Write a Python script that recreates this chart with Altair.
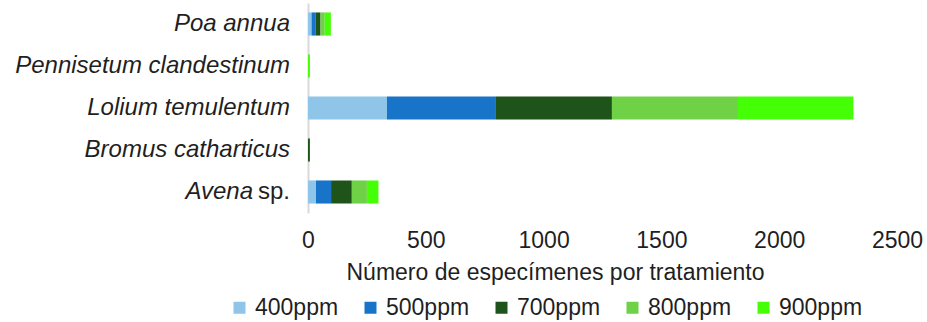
import altair as alt
import pandas as pd

# Species (top to bottom) and their label pieces: genus/species in italics, "sp." upright
species = ["Poa annua", "Pennisetum clandestinum", "Lolium temulentum",
           "Bromus catharticus", "Avena sp."]
italic_part = ["Poa annua", "Pennisetum clandestinum", "Lolium temulentum",
               "Bromus catharticus", "Avena"]
roman_part = ["", "", "", "", "sp."]

# CO2 treatments and their colours
treatments = ["400ppm", "500ppm", "700ppm", "800ppm", "900ppm"]
colors = ["#8EC5E8", "#1874C9", "#1E5319", "#6ED146", "#44FF05"]

# Number of specimens per species, one list per treatment (same order as species)
ppm400 = [15, 0, 335, 0, 34]
ppm500 = [18, 0, 460, 0, 64]
ppm700 = [20, 0, 495, 8, 88]
ppm800 = [18, 0, 535, 0, 64]
ppm900 = [26, 8, 490, 0, 49]

x_ticks = [0, 500, 1000, 1500, 2000, 2500]

series = [ppm400, ppm500, ppm700, ppm800, ppm900]
rows = []
for k, (trt, vals) in enumerate(zip(treatments, series)):
    for sp, v in zip(species, vals):
        rows.append({"especie": sp, "tratamiento": trt, "n": v, "orden": k})
df = pd.DataFrame(rows)

labels = pd.DataFrame({"especie": species, "cursiva": italic_part, "romana": roman_part})

FONT = "Liberation Sans"
TEXT = "#1f1f1f"

y_enc = alt.Y(
    "especie:N",
    sort=species,
    scale=alt.Scale(paddingInner=0.45, paddingOuter=0.225),
    axis=alt.Axis(labels=False, ticks=False, title=None,
                  domainColor="#d9d9d9", domainWidth=2),
)

bars = alt.Chart(df).mark_bar().encode(
    x=alt.X(
        "n:Q",
        stack="zero",
        scale=alt.Scale(domain=[0, 2500], nice=False),
        axis=alt.Axis(
            values=x_ticks,
            format="d",
            grid=False,
            domain=False,
            ticks=False,
            tickSize=0,
            labelFlush=False,
            labelFontSize=23,
            labelPadding=16,
            labelColor=TEXT,
            labelFont=FONT,
            title="Número de especímenes por tratamiento",
            titleFont=FONT,
            titleFontSize=23,
            titleFontWeight="normal",
            titleColor=TEXT,
            titleX=247,
            titleY=66,
            titleAlign="center",
            titleBaseline="alphabetic",
        ),
    ),
    y=y_enc,
    color=alt.Color(
        "tratamiento:N",
        scale=alt.Scale(domain=treatments, range=colors),
        legend=alt.Legend(
            title=None,
            orient="none",
            direction="horizontal",
            legendX=-80,
            legendY=293,
            columnPadding=20,
            symbolType="square",
            symbolSize=144,
            symbolStrokeWidth=0,
            labelFont=FONT,
            labelFontSize=23,
            labelColor=TEXT,
            labelOffset=4,
        ),
    ),
    order=alt.Order("orden:Q", sort="ascending"),
)

# Species names drawn beside the axis so "sp." can stay upright
label_italic = alt.Chart(labels).transform_filter("datum.romana == ''").mark_text(
    align="right", baseline="middle", font=FONT, fontSize=24,
    fontStyle="italic", color=TEXT, dx=-18,
).encode(y=y_enc, x=alt.value(0), text="cursiva:N")

label_genus = alt.Chart(labels).transform_filter("datum.romana != ''").mark_text(
    align="right", baseline="middle", font=FONT, fontSize=24,
    fontStyle="italic", color=TEXT, dx=-55,
).encode(y=y_enc, x=alt.value(0), text="cursiva:N")

label_roman = alt.Chart(labels).transform_filter("datum.romana != ''").mark_text(
    align="right", baseline="middle", font=FONT, fontSize=24,
    fontStyle="normal", color=TEXT, dx=-18,
).encode(y=y_enc, x=alt.value(0), text="romana:N")

chart = alt.layer(bars, label_italic, label_genus, label_roman).properties(
    width=589,
    height=210,
    autosize=alt.AutoSizeParams(type="none"),
    padding={"left": 308, "top": 3, "right": 30, "bottom": 109},
    background="white",
).configure_view(stroke=None)

chart.save("out.html", embed_options={"renderer": "svg", "actions": False})
